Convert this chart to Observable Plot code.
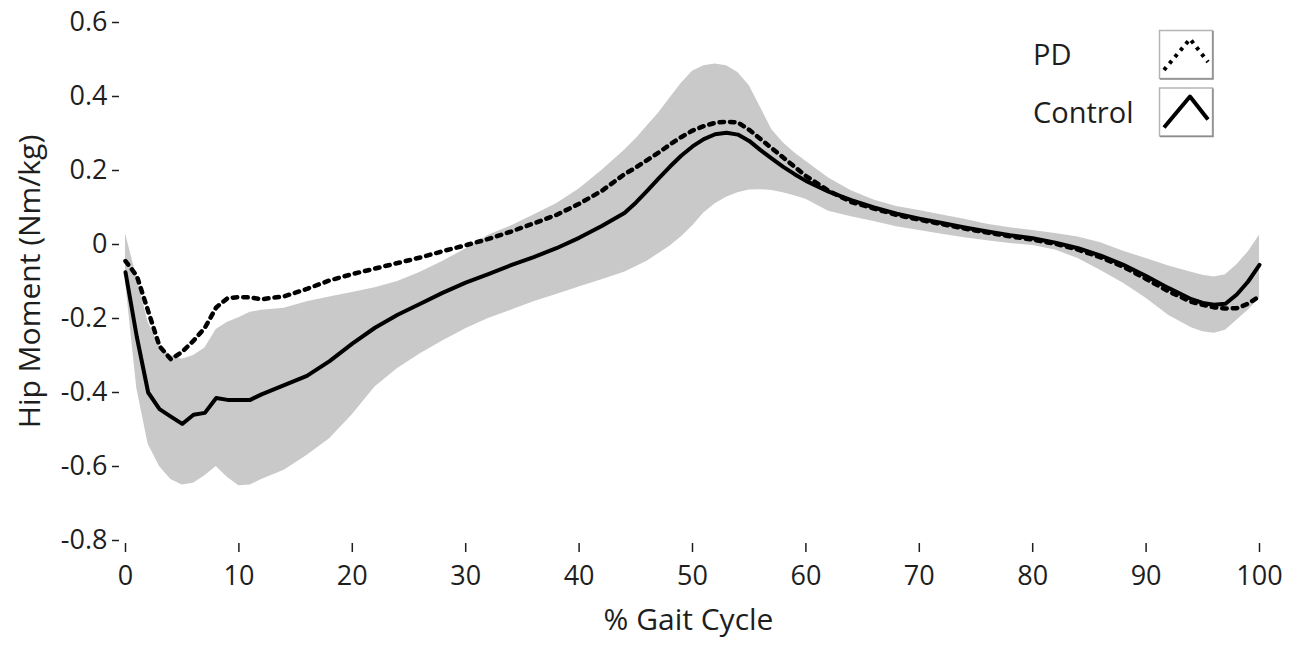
<!DOCTYPE html>
<html>
<head>
<meta charset="utf-8">
<script src="https://cdn.jsdelivr.net/npm/d3@7"></script>
<script src="https://cdn.jsdelivr.net/npm/@observablehq/plot@0.6"></script>
<style>
  html, body { margin: 0; padding: 0; background: #fff; }
  #wrap { position: relative; width: 1305px; height: 647px; font-family: "Open Sans", sans-serif; }
</style>
</head>
<body>
<div id="wrap"></div>
<script>
// % gait cycle sample positions
const pct = [0,1,2,3,4,5,6,7,8,9,10,11,12,14,16,18,20,22,24,26,28,30,32,34,36,38,40,42,44,45,46,47,48,49,50,51,52,53,54,55,56,57,58,59,60,62,64,66,68,70,72,74,76,78,80,82,84,86,88,90,92,94,95,96,97,98,99,100];

// Control mean hip moment (Nm/kg)
const ctrlMean = [-0.075,-0.25,-0.40,-0.445,-0.465,-0.485,-0.46,-0.455,-0.415,-0.42,-0.42,-0.42,-0.405,
  -0.38,-0.355,-0.315,-0.268,-0.225,-0.19,-0.16,-0.13,-0.103,-0.08,-0.056,-0.034,-0.01,0.018,0.05,0.085,
  0.113,0.145,0.178,0.21,0.24,0.265,0.285,0.298,0.302,0.297,0.28,0.255,0.232,0.21,0.19,0.172,
  0.143,0.12,0.1,0.083,0.07,0.058,0.046,0.035,0.025,0.017,0.005,-0.01,-0.03,-0.055,-0.085,-0.118,-0.148,
  -0.158,-0.163,-0.16,-0.135,-0.1,-0.055];

// PD mean hip moment (Nm/kg)
const pdMean = [-0.045,-0.085,-0.18,-0.275,-0.31,-0.29,-0.26,-0.225,-0.17,-0.145,-0.142,-0.143,-0.148,
  -0.14,-0.12,-0.097,-0.08,-0.065,-0.05,-0.035,-0.018,-0.002,0.015,0.035,0.057,0.08,0.11,0.145,0.19,
  0.208,0.228,0.248,0.27,0.29,0.308,0.32,0.329,0.332,0.33,0.31,0.285,0.26,0.235,0.21,0.185,
  0.145,0.115,0.097,0.08,0.067,0.055,0.043,0.032,0.022,0.013,0.002,-0.014,-0.035,-0.06,-0.093,-0.127,-0.155,
  -0.163,-0.17,-0.173,-0.172,-0.16,-0.14];

// Control ± SD band: upper edge
const ctrlUpper = [0.03,-0.09,-0.21,-0.275,-0.3,-0.31,-0.3,-0.28,-0.23,-0.21,-0.198,-0.183,-0.178,
  -0.172,-0.155,-0.142,-0.13,-0.117,-0.1,-0.075,-0.045,-0.012,0.025,0.05,0.08,0.11,0.15,0.2,0.255,
  0.285,0.32,0.355,0.395,0.435,0.468,0.483,0.488,0.483,0.465,0.43,0.37,0.31,0.275,0.248,0.225,
  0.18,0.145,0.12,0.103,0.092,0.08,0.068,0.055,0.045,0.038,0.03,0.02,0.005,-0.018,-0.038,-0.058,-0.075,
  -0.083,-0.088,-0.082,-0.055,-0.02,0.025];

// Control ± SD band: lower edge
const ctrlLower = [-0.1,-0.39,-0.54,-0.6,-0.635,-0.65,-0.645,-0.625,-0.6,-0.63,-0.652,-0.65,-0.635,
  -0.61,-0.57,-0.525,-0.46,-0.385,-0.335,-0.295,-0.26,-0.228,-0.2,-0.178,-0.155,-0.135,-0.115,-0.095,-0.075,
  -0.06,-0.045,-0.025,-0.005,0.02,0.05,0.085,0.11,0.128,0.14,0.147,0.148,0.146,0.14,0.132,0.122,
  0.09,0.075,0.062,0.048,0.038,0.028,0.018,0.01,0.003,-0.003,-0.015,-0.038,-0.07,-0.105,-0.145,-0.192,-0.225,
  -0.236,-0.24,-0.232,-0.205,-0.178,-0.145];

const xTicks = [0,10,20,30,40,50,60,70,80,90,100];
const yTicks = [-0.8,-0.6,-0.4,-0.2,0,0.2,0.4,0.6];
const xTitle = "% Gait Cycle";
const yTitle = "Hip Moment (Nm/kg)";
const legendNames = ["PD","Control"];

const rows = pct.map((p, i) => ({pct: p, ctrl: ctrlMean[i], pd: pdMean[i], lo: ctrlLower[i], hi: ctrlUpper[i]}));

const chart = Plot.plot({
  width: 1305,
  height: 647,
  marginTop: 22,
  marginBottom: 107,
  marginLeft: 125,
  marginRight: 46,
  style: {fontFamily: '"Open Sans", sans-serif', fontSize: "27px", color: "#1e1e1e", background: "#fff", overflow: "visible"},
  x: {domain: [0, 100]},
  y: {domain: [-0.8, 0.6]},
  marks: [
    Plot.areaY(rows, {x: "pct", y1: "lo", y2: "hi", fill: "#c9c9c9"}),
    Plot.line(rows, {x: "pct", y: "ctrl", stroke: "#000", strokeWidth: 4, strokeLinejoin: "round"}),
    Plot.line(rows, {x: "pct", y: "pd", stroke: "#000", strokeWidth: 4.5, strokeDasharray: "4.5,6"}),
    Plot.axisX({ticks: xTicks, tickFormat: d => String(d), tickSize: 9, tickPadding: 13, dy: 3, label: null, fontSize: 27, strokeWidth: 1.5}),
    Plot.axisY({ticks: yTicks, tickFormat: d => Math.abs(d) < 1e-9 ? "0" : d.toFixed(1), tickSize: 7, tickPadding: 5, dx: -6, label: null, fontSize: 27, strokeWidth: 1.5}),
    Plot.text([xTitle], {text: d => d, frameAnchor: "bottom", textAnchor: "middle", lineAnchor: "middle", dy: 80, dx: -4, fontSize: 30, fill: "#1e1e1e"}),
    Plot.text([yTitle], {text: d => d, frameAnchor: "left", textAnchor: "middle", lineAnchor: "middle", rotate: -90, dx: -95, fontSize: 30, fill: "#1e1e1e"})
  ]
});

const wrap = document.getElementById("wrap");
wrap.appendChild(chart);

// Legend (overlay with real text)
const ns = "http://www.w3.org/2000/svg";
const leg = document.createElementNS(ns, "svg");
leg.setAttribute("width", "210");
leg.setAttribute("height", "120");
leg.style.position = "absolute";
leg.style.left = "1020px";
leg.style.top = "25px";
legendNames.forEach((name, i) => {
  const oy = i * 57.5;
  const t = document.createElementNS(ns, "text");
  t.setAttribute("x", "13");
  t.setAttribute("y", String(40 + oy));
  t.setAttribute("font-family", '"Open Sans", sans-serif');
  t.setAttribute("font-size", "29");
  t.setAttribute("fill", "#1e1e1e");
  t.textContent = name;
  leg.appendChild(t);
  const r = document.createElementNS(ns, "rect");
  r.setAttribute("x", "139.5"); r.setAttribute("y", String(5.5 + oy));
  r.setAttribute("width", "53"); r.setAttribute("height", "48");
  r.setAttribute("fill", "#fff"); r.setAttribute("stroke", "#b4b4b4"); r.setAttribute("stroke-width", "1.5");
  leg.appendChild(r);
  const sh = document.createElementNS(ns, "polyline");
  sh.setAttribute("points", `${140},${54 + oy} ${193},${54 + oy} ${193},${6 + oy}`);
  sh.setAttribute("fill", "none"); sh.setAttribute("stroke", "#8c8c8c"); sh.setAttribute("stroke-width", "1.5");
  leg.appendChild(sh);
  const p = document.createElementNS(ns, "polyline");
  p.setAttribute("points", `${144},${45 + oy} ${170},${14 + oy} ${188},${37 + oy}`);
  p.setAttribute("fill", "none"); p.setAttribute("stroke", "#000");
  p.setAttribute("stroke-width", "4");
  if (i === 0) p.setAttribute("stroke-dasharray", "3.5,5");
  p.setAttribute("stroke-linejoin", "round");
  leg.appendChild(p);
});
wrap.appendChild(leg);
</script>
</body>
</html>
